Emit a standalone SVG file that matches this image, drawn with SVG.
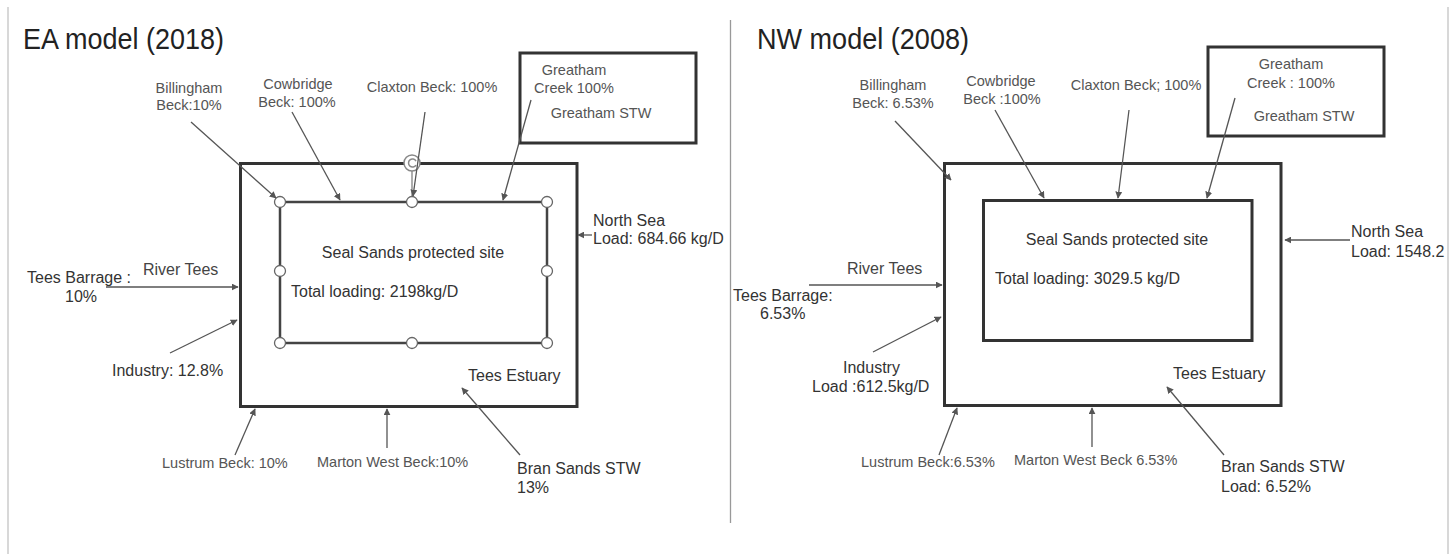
<svg xmlns="http://www.w3.org/2000/svg" width="1455" height="554" viewBox="0 0 1455 554">
<defs>
<marker id="ah" viewBox="0 0 10 10" refX="9" refY="5" markerWidth="7" markerHeight="7" markerUnits="userSpaceOnUse" orient="auto">
<path d="M0,0 L10,5 L0,10 z" fill="#555"/>
</marker>
</defs>
<style>
text{font-family:"Liberation Sans",Arial,sans-serif}
.title{font-size:29px;fill:#222}
.sm{font-size:14.5px;fill:#555}
.lb{font-size:16px;fill:#333}
.c{text-anchor:middle}
.box{fill:none;stroke:#333;stroke-width:3}
.in{fill:none;stroke:#444;stroke-width:2.5}
.hd{fill:#fff;stroke:#666;stroke-width:1.3}
.ar{stroke:#555;stroke-width:1.3;fill:none;marker-end:url(#ah)}
.frame{stroke:#d8d8d8;stroke-width:2;fill:none}
</style>
<rect width="1455" height="554" fill="#fff"/>
<g id="frame">
<line class="frame" x1="8" y1="7" x2="8" y2="554"/>
<line class="frame" x1="1448" y1="7" x2="1448" y2="554"/>
<line x1="730.5" y1="20" x2="730.5" y2="523" stroke="#999" stroke-width="1.3"/>
</g>

<!-- LEFT PANEL -->
<g id="title-ea"><text class="title" x="23" y="49" textLength="201" lengthAdjust="spacingAndGlyphs">EA model (2018)</text></g>
<g id="ea-estuary">
<rect class="box" x="240.5" y="163.5" width="336.5" height="243"/>
<text class="lb" x="468" y="381">Tees Estuary</text>
</g>
<g id="ea-site">
<rect class="in" x="280" y="202" width="267" height="141"/>
<circle class="hd" cx="280" cy="202" r="5.5"/>
<circle class="hd" cx="412" cy="202" r="5.5"/>
<circle class="hd" cx="547" cy="202" r="5.5"/>
<circle class="hd" cx="280" cy="271" r="5.5"/>
<circle class="hd" cx="547" cy="271" r="5.5"/>
<circle class="hd" cx="280" cy="343" r="5.5"/>
<circle class="hd" cx="412" cy="343" r="5.5"/>
<circle class="hd" cx="547" cy="343" r="5.5"/>
<line x1="412" y1="171" x2="412" y2="196.5" stroke="#777" stroke-width="1.2"/>
<circle cx="412" cy="163" r="8" fill="#fff" stroke="#888" stroke-width="1.5"/>
<path d="M416,165 A4,4 0 1 1 416,161" fill="none" stroke="#888" stroke-width="1.5"/>
<text class="lb c" x="413" y="258">Seal Sands protected site</text>
<text class="lb" x="291" y="297">Total loading: 2198kg/D</text>
</g>
<g id="ea-greatham">
<rect class="box" x="520" y="53" width="176" height="90"/>
<text class="sm c" x="574" y="75">Greatham</text>
<text class="sm c" x="574" y="93">Creek 100%</text>
<text class="sm c" x="601" y="118">Greatham STW</text>
</g>
<g id="ea-billingham"><text class="sm c" x="189" y="93">Billingham</text><text class="sm c" x="189" y="110">Beck:10%</text></g>
<g id="ea-cowbridge"><text class="sm c" x="298" y="89">Cowbridge</text><text class="sm c" x="297" y="107">Beck: 100%</text></g>
<g id="ea-claxton"><text class="sm c" x="432" y="92">Claxton Beck: 100%</text></g>
<g id="ea-northsea"><text class="lb" x="593" y="226">North Sea</text><text class="lb" x="593" y="244">Load: 684.66 kg/D</text></g>
<g id="ea-rivertees"><text class="lb" x="143" y="275" style="fill:#444">River Tees</text><text class="lb" x="27" y="283">Tees Barrage :</text><text class="lb" x="65" y="302">10%</text></g>
<g id="ea-industry"><text class="lb" x="112" y="376">Industry: 12.8%</text></g>
<g id="ea-lustrum"><text class="sm" x="162" y="468">Lustrum Beck: 10%</text></g>
<g id="ea-marton"><text class="sm" x="317" y="467">Marton West Beck:10%</text></g>
<g id="ea-bransands"><text class="lb" x="517" y="474">Bran Sands STW</text><text class="lb" x="517" y="493">13%</text></g>

<!-- RIGHT PANEL -->
<g id="title-nw"><text class="title" x="757" y="49" textLength="212" lengthAdjust="spacingAndGlyphs">NW model (2008)</text></g>
<g id="nw-estuary">
<rect class="box" x="944.5" y="163.5" width="336.5" height="242"/>
<text class="lb" x="1173" y="379">Tees Estuary</text>
</g>
<g id="nw-site">
<rect class="box" x="983.5" y="200.5" width="268.5" height="140"/>
<text class="lb c" x="1117" y="245">Seal Sands protected site</text>
<text class="lb" x="995" y="284">Total loading: 3029.5 kg/D</text>
</g>
<g id="nw-greatham">
<rect class="box" x="1208" y="47" width="176" height="89"/>
<text class="sm c" x="1291" y="69">Greatham</text>
<text class="sm c" x="1291" y="88">Creek : 100%</text>
<text class="sm c" x="1304" y="121">Greatham STW</text>
</g>
<g id="nw-billingham"><text class="sm c" x="893" y="90">Billingham</text><text class="sm c" x="893" y="108">Beck: 6.53%</text></g>
<g id="nw-cowbridge"><text class="sm c" x="1001" y="86">Cowbridge</text><text class="sm c" x="1002" y="104">Beck :100%</text></g>
<g id="nw-claxton"><text class="sm c" x="1136" y="90">Claxton Beck; 100%</text></g>
<g id="nw-northsea"><text class="lb" x="1351" y="237">North Sea</text><text class="lb" x="1351" y="257">Load: 1548.2</text></g>
<g id="nw-rivertees"><text class="lb" x="847" y="274" style="fill:#444">River Tees</text><text class="lb" x="733" y="301">Tees Barrage:</text><text class="lb" x="760" y="319">6.53%</text></g>
<g id="nw-industry"><text class="lb" x="843" y="373">Industry</text><text class="lb" x="812" y="392">Load :612.5kg/D</text></g>
<g id="nw-lustrum"><text class="sm" x="861" y="467">Lustrum Beck:6.53%</text></g>
<g id="nw-marton"><text class="sm" x="1014" y="465">Marton West Beck 6.53%</text></g>
<g id="nw-bransands"><text class="lb" x="1221" y="472">Bran Sands STW</text><text class="lb" x="1221" y="492">Load: 6.52%</text></g>

<g id="connectors">
<!-- left -->
<line class="ar" x1="191" y1="122" x2="276" y2="198"/>
<line class="ar" x1="292" y1="112" x2="340" y2="200"/>
<line class="ar" x1="425" y1="112" x2="413" y2="196"/>
<line class="ar" x1="531" y1="100" x2="503" y2="200"/>
<line class="ar" x1="592" y1="235" x2="578" y2="235"/>
<line class="ar" x1="106" y1="287" x2="238" y2="287"/>
<line class="ar" x1="170" y1="353" x2="237" y2="320"/>
<line class="ar" x1="235" y1="455" x2="255" y2="409"/>
<line class="ar" x1="387" y1="448" x2="387" y2="409"/>
<line class="ar" x1="520" y1="455" x2="462" y2="388"/>
<!-- right -->
<line class="ar" x1="895" y1="121" x2="951" y2="180"/>
<line class="ar" x1="995" y1="110" x2="1044" y2="198"/>
<line class="ar" x1="1129" y1="110" x2="1118" y2="198"/>
<line class="ar" x1="1235" y1="98" x2="1207" y2="198"/>
<line class="ar" x1="1350" y1="240" x2="1285" y2="240"/>
<line class="ar" x1="809" y1="285" x2="942" y2="285"/>
<line class="ar" x1="873" y1="352" x2="941" y2="317"/>
<line class="ar" x1="939" y1="455" x2="957" y2="408"/>
<line class="ar" x1="1092" y1="447" x2="1092" y2="408"/>
<line class="ar" x1="1224" y1="455" x2="1167" y2="387"/>
</g>
</svg>
